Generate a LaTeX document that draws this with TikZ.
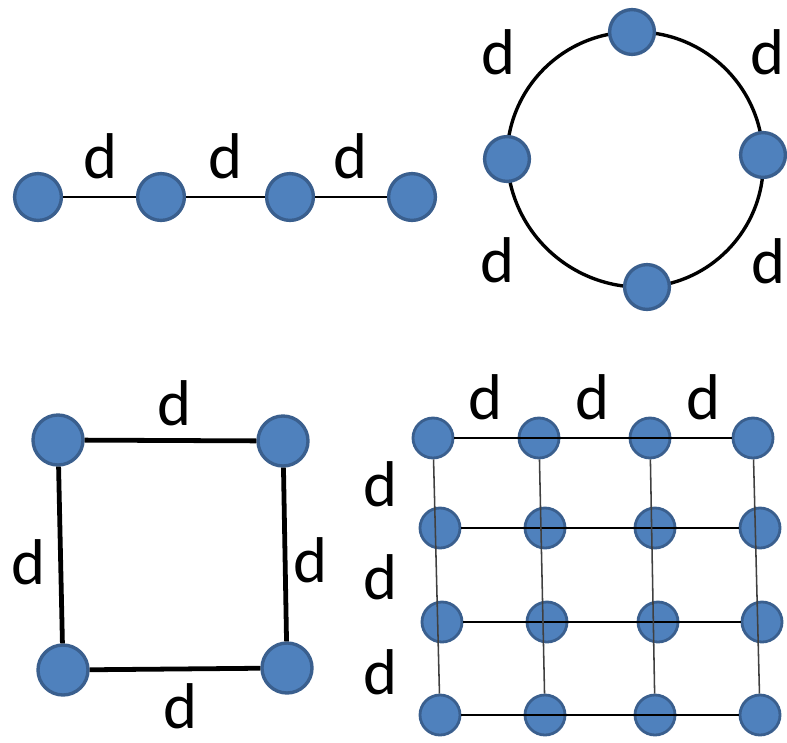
\documentclass[tikz,border=0pt]{standalone}
\usepackage{fontspec}
\setmainfont{Carlito}
\usetikzlibrary{backgrounds}
\definecolor{dotfill}{HTML}{4F81BD}
\definecolor{dotedge}{HTML}{3A5F8E}

\begin{document}
\begin{tikzpicture}[x=0.025cm,y=-0.025cm,
  dot/.style={circle,fill=dotfill,draw=dotedge,line width=2.4pt,inner sep=0pt,minimum size=1.17cm},
  lbl/.style={font=\fontsize{46}{48}\selectfont,inner sep=0pt}]
\useasboundingbox (0,0) rectangle (787,742);
% chain
\foreach \i/\x in {1/38,2/161,3/290,4/412}
 \node[dot] (l\i) at (\x,197) {};
\draw[line width=1.5pt] (l1)--(l2)--(l3)--(l4);
\foreach \i/\x in {1/100,2/225,3/350}
 \node[lbl] (ld\i) at (\x,156) {d};
% ring
\node[dot,minimum size=1.12cm] (c1) at (632,32) {};
\node[dot,minimum size=1.12cm] (c2) at (507,159) {};
\node[dot,minimum size=1.12cm] (c3) at (647,287) {};
\node[dot,minimum size=1.12cm] (c4) at (763,155) {};
\begin{pgfonlayer}{background}
\draw[line width=2.4pt] (c1.center) to[bend right=45] (c2.center) to[bend right=45] (c3.center)
  to[bend right=45] (c4.center) to[bend right=45] (c1.center);
\end{pgfonlayer}
\foreach \i/\x/\y in {1/498/52,2/767/52,3/497/260,4/768/261}
 \node[lbl] (cd\i) at (\x,\y) {d};
% square
\foreach \i/\x/\y in {1/58/440,2/283/441,3/287/668,4/63/670}
 \node[dot,minimum size=1.25cm] (s\i) at (\x,\y) {};
\draw[line width=3.4pt] (s1)--(s2)--(s3)--(s4)--(s1);
\node[lbl] (sd1) at (174,403) {d};
\node[lbl] (sd2) at (310,560) {d};
\node[lbl] (sd3) at (180,706) {d};
\node[lbl] (sd4) at (28,562) {d};
% grid
\foreach \r/\y/\xs in {1/438/{433,539,650,753},2/528/{440,545,655,760},3/622/{442,547,658,762},4/715/{440,545,655,760}}
 \foreach[count=\c] \x in \xs
  \node[dot,minimum size=1.0cm,line width=2pt] (g\r\c) at (\x,\y) {};
\foreach \r in {1,...,4}
 \draw[line width=1.3pt] (g\r1)--(g\r4);
\foreach \c in {1,...,4}
 \draw[line width=1.1pt,black!75] (g1\c)--(g4\c);
\foreach \i/\x in {1/485,2/592,3/703}
 \node[lbl] (gt\i) at (\x,397) {d};
\foreach \i/\y in {1/484,2/577,3/672}
 \node[lbl] (gl\i) at (380,\y) {d};
\end{tikzpicture}
\end{document}
